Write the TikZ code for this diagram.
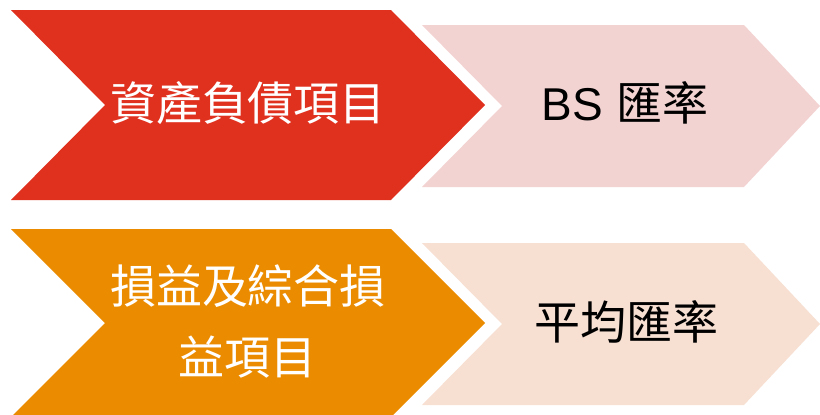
\documentclass[tikz,border=0pt]{standalone}
\usepackage{fontspec}
\setmainfont{Liberation Sans}
\newfontfamily\cjk{Noto Sans CJK TC}
\definecolor{cred}{HTML}{E0301E}
\definecolor{corange}{HTML}{EB8C00}
\definecolor{cpink}{HTML}{F3D2D2}
\definecolor{cpeach}{HTML}{F7DFD2}
\tikzset{
  lbl/.style={font=\fontsize{46}{71}\selectfont, align=center, inner sep=0pt},
  wlbl/.style={lbl, text=white},
  blbl/.style={lbl, text=black}
}
\begin{document}
\begin{tikzpicture}[x=1pt,y=-1pt]
\useasboundingbox (0,0) rectangle (820,415);
% top row
\fill[cred] (11,10) -- (391,10) -- (485,105) -- (391,200) -- (11,200) -- (105,105) -- cycle;
\fill[cpink] (422,25) -- (744,25) -- (820,106) -- (744,187) -- (422,187) -- (502,106) -- cycle;
% bottom row
\fill[corange] (11,229) -- (391,229) -- (485,323) -- (391,417) -- (11,417) -- (105,323) -- cycle;
\fill[cpeach] (422,243) -- (744,243) -- (820,324) -- (744,405) -- (422,405) -- (502,324) -- cycle;
\node[wlbl] (a) at (248,103) {\cjk 資產負債項目};
\node[blbl] (b) at (625,103) {BS {\cjk 匯率}};
\node[wlbl] (c) at (248,321) {\cjk 損益及綜合損\\\cjk 益項目};
\node[blbl] (d) at (626,322) {\cjk 平均匯率};
\end{tikzpicture}
\end{document}
